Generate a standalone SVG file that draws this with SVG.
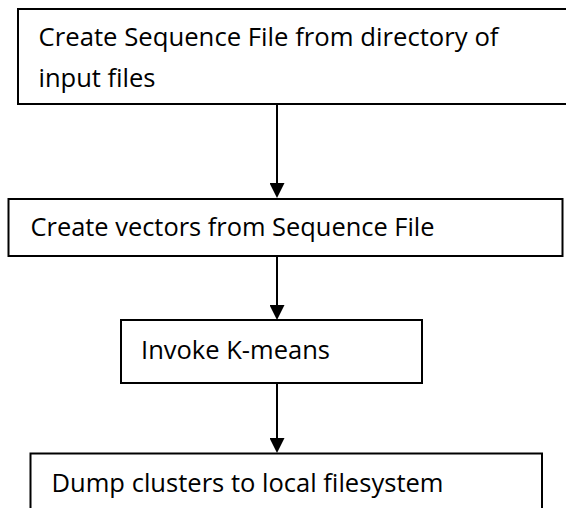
<svg xmlns="http://www.w3.org/2000/svg" width="566" height="508" viewBox="0 0 566 508">
  <style>
    .box { fill: #ffffff; stroke: #000000; stroke-width: 2; }
    .lbl { font-family: "Open Sans", "Noto Sans", "Liberation Sans", sans-serif; font-size: 26px; fill: #000000; }
    .edge { stroke: #000000; stroke-width: 2; fill: none; marker-end: url(#arrow); }
  </style>
  <defs>
    <marker id="arrow" viewBox="0 0 15 15" markerUnits="userSpaceOnUse" markerWidth="15" markerHeight="15" refX="7" refY="7.5" orient="auto">
      <path d="M0,0 L15,7.5 L0,15 Z" fill="#000000"/>
    </marker>
  </defs>
  <rect x="0" y="0" width="566" height="508" fill="#ffffff"/>

  <g id="connectors">
    <path class="edge" d="M277,104 V190"/>
    <path class="edge" d="M277,256 V312"/>
    <path class="edge" d="M277,383 V445"/>
  </g>

  <g id="node-sequence-file">
    <rect class="box" x="18" y="9" width="570" height="95"/>
    <text class="lbl" x="38.5" y="46" textLength="460" lengthAdjust="spacingAndGlyphs">Create Sequence File from directory of</text>
    <text class="lbl" x="38.5" y="87" textLength="117" lengthAdjust="spacingAndGlyphs">input files</text>
  </g>

  <g id="node-vectors">
    <rect class="box" x="8.5" y="199" width="554" height="57"/>
    <text class="lbl" x="30.5" y="236" textLength="404" lengthAdjust="spacingAndGlyphs">Create vectors from Sequence File</text>
  </g>

  <g id="node-kmeans">
    <rect class="box" x="121" y="320" width="301" height="63"/>
    <text class="lbl" x="141" y="359" textLength="189" lengthAdjust="spacingAndGlyphs">Invoke K-means</text>
  </g>

  <g id="node-dump">
    <rect class="box" x="30.5" y="453.5" width="511.5" height="70"/>
    <text class="lbl" x="51.5" y="492" textLength="392" lengthAdjust="spacingAndGlyphs">Dump clusters to local filesystem</text>
  </g>
</svg>
